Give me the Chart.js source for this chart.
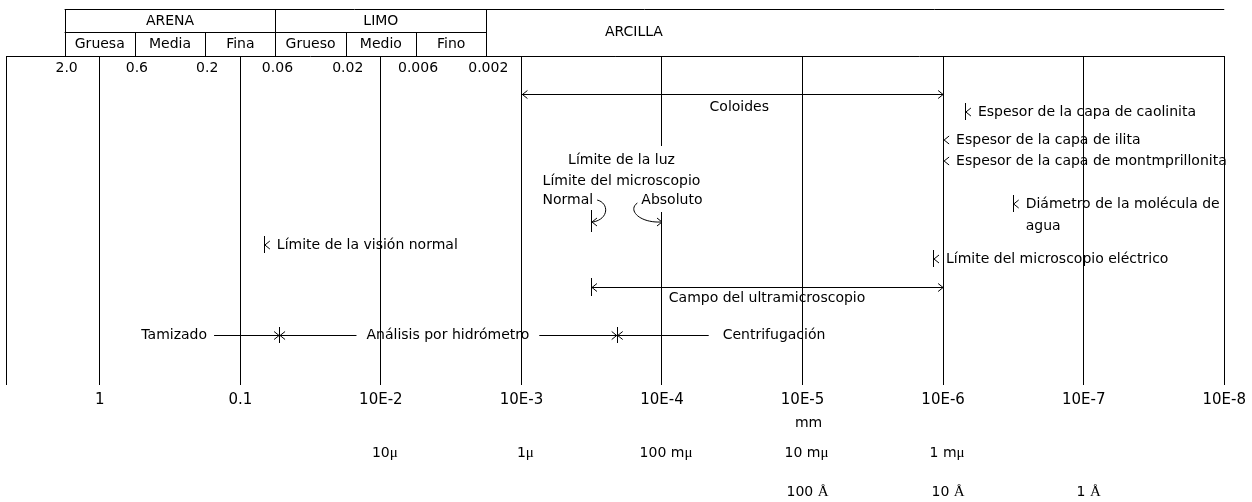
<!DOCTYPE html>
<html>
<head>
<meta charset="utf-8">
<script src="https://cdn.jsdelivr.net/npm/chart.js@4"></script>
<style>
  html, body { margin: 0; padding: 0; background: #fff; }
  #wrap { position: relative; width: 1252px; height: 502px; }
</style>
</head>
<body>
<div id="wrap"><canvas id="grainChart"></canvas></div>
<script>
// x value on the chart = -log10(diameter in mm)
const decadeLabels = ['1', '0.1', '10E-2', '10E-3', '10E-4', '10E-5', '10E-6', '10E-7', '10E-8'];
const decadeValues = [0, 1, 2, 3, 4, 5, 6, 7, 8];
const microLabels = ['10μ', '1μ', '100 mμ', '10 mμ', '1 mμ'];
const microValues = [2, 3, 4, 5, 6];
const angstromLabels = ['100 Å', '10 Å', '1 Å'];
const angstromValues = [5, 6, 7];

// header: classes and sieve limits (mm)
const mainClasses = ['ARENA', 'LIMO', 'ARCILLA'];
const subClasses = ['Gruesa', 'Media', 'Fina', 'Grueso', 'Medio', 'Fino'];
const sieveLimits = ['2.0', '0.6', '0.2', '0.06', '0.02', '0.006', '0.002'];

// single sizes (mm)
const noteLabels = ['Espesor de la capa de caolinita', 'Espesor de la capa de ilita',
  'Espesor de la capa de montmprillonita', 'Diámetro de la molécula de\nagua',
  'Límite del microscopio eléctrico', 'Límite de la visión normal'];
const noteSizes = [7e-7, 1e-6, 1e-6, 3.2e-7, 1.18e-6, 0.068];

// size ranges (mm)
const rangeLabels = ['Coloides', 'Campo del ultramicroscopio'];
const rangeFrom = [1e-3, 3.2e-4];
const rangeTo = [1e-6, 1e-6];

// light microscope limits (mm)
const microscopeLabels = ['Normal', 'Absoluto'];
const microscopeSizes = [3.2e-4, 1e-4];

// analysis methods and the sizes where one gives way to the next (mm)
const methodLabels = ['Tamizado', 'Análisis por hidrómetro', 'Centrifugación'];
const methodLimits = [0.053, 0.00021];

const exp10 = mm => -Math.log10(mm);

// layout rows (canvas y)
const noteRows = [112, 140, 161, 204, 259, 245];
const noteHasTick = [true, false, false, true, true, true];
const rangeRows = [94, 287];
const methodRow = 335;

const ink = '#000';
const sans = '"DejaVu Sans"';

function seg(ctx, x1, y1, x2, y2) {
  ctx.beginPath();
  ctx.moveTo(x1, y1);
  ctx.lineTo(x2, y2);
  ctx.stroke();
}
function hline(ctx, x1, x2, y) { const yy = Math.round(y) + 0.5; seg(ctx, x1, yy, x2, yy); }
function vline(ctx, x, y1, y2) { const xx = Math.round(x) + 0.5; seg(ctx, xx, y1, xx, y2); }
function chevron(ctx, x, y, dir) {
  // dir -1: tip on the left, 1: tip on the right
  ctx.beginPath();
  ctx.moveTo(x - dir * 5, y - 4);
  ctx.lineTo(x, y);
  ctx.lineTo(x - dir * 5, y + 4);
  ctx.stroke();
}
function text(ctx, s, x, y, size, align) {
  ctx.font = size + 'px ' + sans;
  ctx.textAlign = align || 'left';
  ctx.textBaseline = 'middle';
  ctx.fillText(s, x, y);
  return ctx.measureText(s).width;
}
function mixedText(ctx, s, cx, y, size) {
  const parts = [];
  for (const ch of s) {
    const serif = ch === 'μ' || ch === 'Å';
    const f = serif ? (size + 1) + 'px "Liberation Serif"' : size + 'px ' + sans;
    ctx.font = f;
    parts.push({ ch, f, w: ctx.measureText(ch).width });
  }
  let xx = cx - parts.reduce((t, p) => t + p.w, 0) / 2;
  ctx.textAlign = 'left';
  ctx.textBaseline = 'middle';
  parts.forEach(p => { ctx.font = p.f; ctx.fillText(p.ch, xx, y); xx += p.w; });
}

const scaleNotes = {
  id: 'scaleNotes',
  afterDraw(chart) {
    const { ctx, chartArea: a, scales: { x } } = chart;
    const px = v => x.getPixelForValue(v);
    ctx.save();
    ctx.strokeStyle = ink;
    ctx.fillStyle = ink;
    ctx.lineWidth = 1;

    // frame top
    hline(ctx, a.left, a.right, a.top);

    // header table, one class every half decade
    const bx = sieveLimits.map((_, i) => px(-0.25 + 0.5 * i));
    hline(ctx, bx[0], a.right, 9);
    hline(ctx, bx[0], bx[6], 32);
    [0, 3, 6].forEach(i => vline(ctx, bx[i], 9, a.top));
    [1, 2, 4, 5].forEach(i => vline(ctx, bx[i], 32, a.top));
    text(ctx, mainClasses[0], (bx[0] + bx[3]) / 2, 21, 14, 'center');
    text(ctx, mainClasses[1], (bx[3] + bx[6]) / 2, 21, 14, 'center');
    text(ctx, mainClasses[2], px(3.8), 32, 14, 'center');
    subClasses.forEach((s, i) => text(ctx, s, (bx[i] + bx[i + 1]) / 2, 44, 14, 'center'));
    sieveLimits.forEach((s, i) => text(ctx, s, bx[i] + 2, 68, 14, 'center'));

    // microscope block (masks the grid line behind it)
    const tN = px(exp10(microscopeSizes[0]));
    const tA = px(exp10(microscopeSizes[1]));
    const cx = (tN + tA) / 2 - 5;
    ctx.fillStyle = '#fff';
    ctx.fillRect(cx - 84, 146, 168, 66);
    ctx.fillStyle = ink;
    text(ctx, 'Límite de la luz', cx, 160, 14, 'center');
    text(ctx, 'Límite del microscopio', cx, 181, 14, 'center');
    const wN = text(ctx, microscopeLabels[0], cx - 79, 200, 14, 'left');
    const wA = text(ctx, microscopeLabels[1], cx + 81, 200, 14, 'right');
    vline(ctx, tN, 210, 232);
    ctx.beginPath();
    ctx.moveTo(cx - 79 + wN + 4, 200);
    ctx.bezierCurveTo(cx - 79 + wN + 16, 203, cx - 79 + wN + 16, 219, tN + 2, 222);
    ctx.stroke();
    chevron(ctx, tN + 1, 222, -1);
    ctx.beginPath();
    ctx.moveTo(cx + 81 - wA - 4, 203);
    ctx.bezierCurveTo(cx + 81 - wA - 14, 210, cx + 81 - wA - 2, 223, tA - 1, 222);
    ctx.stroke();
    chevron(ctx, tA, 222, 1);

    // single size notes
    noteLabels.forEach((s, i) => {
      const t = px(exp10(noteSizes[i]));
      const y = noteRows[i];
      if (noteHasTick[i]) vline(ctx, t, y - 9, y + 8);
      chevron(ctx, t + 1, y, -1);
      s.split('\n').forEach((line, k) => text(ctx, line, t + 13, y + k * 22, 14, 'left'));
    });

    // ranges
    rangeLabels.forEach((s, i) => {
      const l = px(exp10(rangeFrom[i]));
      const r = px(exp10(rangeTo[i]));
      const y = rangeRows[i];
      hline(ctx, l, r, y);
      chevron(ctx, l + 1, y + 0.5, -1);
      chevron(ctx, r, y + 0.5, 1);
      if (i === 1) vline(ctx, l, y - 9, y + 9);
      text(ctx, s, (l + r) / 2 + (i === 0 ? 7 : 0), y + (i === 0 ? 13 : 11), 14, 'center');
    });

    // analysis methods
    const c1 = px(exp10(methodLimits[0]));
    const c2 = px(exp10(methodLimits[1]));
    const y = methodRow;
    const w0 = text(ctx, methodLabels[0], c1 - 72, y, 14, 'right');
    const w1 = text(ctx, methodLabels[1], (c1 + c2) / 2, y, 14, 'center');
    text(ctx, methodLabels[2], c2 + 106, y, 14, 'left');
    hline(ctx, c1 - 65, (c1 + c2) / 2 - w1 / 2 - 10, y);
    hline(ctx, (c1 + c2) / 2 + w1 / 2 + 10, c2 + 92, y);
    [c1, c2].forEach(c => {
      vline(ctx, c, y - 8, y + 8);
      chevron(ctx, c, y + 0.5, 1);
      chevron(ctx, c + 1, y + 0.5, -1);
    });

    // unit rows under the axis
    text(ctx, 'mm', px(5) + 6, 423, 14, 'center');
    microLabels.forEach((s, i) => mixedText(ctx, s, px(microValues[i]) + 4, 453, 14));
    angstromLabels.forEach((s, i) => mixedText(ctx, s, px(angstromValues[i]) + 5, 492, 14));

    ctx.restore();
  }
};

Chart.defaults.font.family = 'DejaVu Sans';
Chart.defaults.color = ink;

new Chart(document.getElementById('grainChart'), {
  type: 'scatter',
  data: { datasets: [{ data: [], showLine: false }] },
  options: {
    responsive: true,
    maintainAspectRatio: false,
    animation: false,
    events: [],
    layout: { padding: { left: 4, right: 27, top: 56, bottom: 0 } },
    plugins: { legend: { display: false }, tooltip: { enabled: false } },
    scales: {
      x: {
        type: 'linear',
        min: -0.667,
        max: 8,
        afterBuildTicks: s => { s.ticks = [s.min].concat(decadeValues).map(v => ({ value: v })); },
        afterFit: s => { s.height = 117; },
        ticks: {
          autoSkip: false,
          maxRotation: 0,
          padding: 6,
          font: { size: 15 },
          callback: v => { const i = decadeValues.indexOf(v); return i < 0 ? '' : decadeLabels[i]; }
        },
        grid: { color: ink, lineWidth: 1, drawTicks: false },
        border: { display: false }
      },
      y: { display: false, min: 0, max: 1 }
    }
  },
  plugins: [scaleNotes]
});
</script>
</body>
</html>
